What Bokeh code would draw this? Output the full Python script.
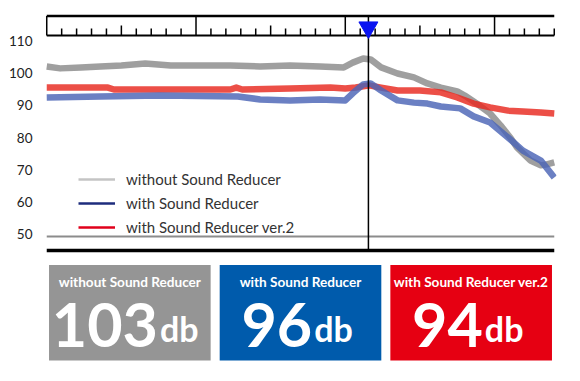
import numpy as np
from bokeh.plotting import figure
from bokeh.layouts import column
from bokeh.models import Range1d, FactorRange, FixedTicker, Legend, LegendItem, ColumnDataSource
from bokeh.core.properties import value
from bokeh.embed import file_html
from bokeh.resources import INLINE

# ---------------- data ----------------
y_ticks = [50, 60, 70, 80, 90, 100, 110]

gray_x = [0, 0.9, 2.3, 3.6, 5.0, 6.6, 8.3, 10.3, 12.3, 14.3, 16.3, 18.3, 19.9, 20.5, 21.2, 21.7,
          22.4, 23.5, 24.6, 25.5, 26.4, 27.5, 28.0, 28.9, 29.7, 30.4, 31.1, 31.5, 32.4, 33.1, 33.5, 34.0]
gray_v = [102.2, 101.6, 101.9, 102.2, 102.5, 103.1, 102.5, 102.5, 102.5, 102.2, 102.5, 102.2, 101.9,
          103.4, 104.7, 104.4, 101.9, 100.0, 98.8, 96.9, 95.6, 94.4, 93.1, 90.3, 87.5, 83.8, 79.7,
          76.9, 72.8, 71.3, 71.6, 72.2]

blue_x = [0, 3.6, 7.6, 12.8, 14.3, 16.3, 18.3, 20.0, 20.5, 21.2, 21.7, 22.4, 23.5, 24.6, 25.5,
          26.4, 27.7, 28.6, 29.7, 30.9, 31.9, 33.1, 34.0]
blue_v = [92.5, 92.8, 93.1, 92.8, 91.9, 91.6, 91.9, 91.6, 93.8, 96.6, 96.9, 94.7, 91.6, 90.9, 90.6,
          89.7, 89.1, 86.6, 84.7, 80.0, 75.9, 72.8, 67.5]

red_x = [0, 4.1, 4.5, 12.3, 12.7, 13.1, 16.3, 19.0, 20.0, 20.7, 21.6, 22.4, 23.5, 25.0, 26.4,
         27.5, 28.6, 29.7, 30.9, 31.9, 33.1, 34.0]
red_v = [95.6, 95.6, 95.0, 95.0, 95.6, 95.0, 95.3, 95.6, 95.3, 95.6, 96.3, 95.6, 94.7, 94.7, 94.1,
         92.5, 90.6, 89.4, 88.4, 88.1, 87.8, 87.5]

cursor_x = 21.55

series_labels = ["without Sound Reducer", "with Sound Reducer", "with Sound Reducer ver.2"]
peak_db = [103, 96, 94]

# ---------------- styles ----------------
FONT = "Lato"
line_colors = ["#8a8a8a", "#4a64b6", "#e8281e"]
legend_colors = ["#c4c4c4", "#1e2d7d", "#e0001b"]
box_colors = ["#959595", "#005bac", "#e60012"]

ruler_top, ruler_bottom = 117.97, 111.875
minor_top, mid_top = 114.06, 115.0
base_gray, base_black = 49.06, 44.69

# ---------------- chart ----------------
p = figure(width=580, height=258, x_range=Range1d(-0.15, 34.15), y_range=Range1d(42.19, 122.81),
           output_backend="svg", toolbar_location=None, x_axis_location=None,
           min_border_left=44, min_border_right=24, min_border_top=0, min_border_bottom=0)
p.outline_line_color = None
p.xgrid.visible = False
p.ygrid.visible = False
p.yaxis.ticker = FixedTicker(ticks=y_ticks)
p.yaxis.axis_line_color = None
p.yaxis.major_tick_line_color = None
p.yaxis.minor_tick_line_color = None
p.yaxis.major_label_standoff = 6
p.yaxis.major_label_text_font = FONT
p.yaxis.major_label_text_font_size = "13.5px"
p.yaxis.major_label_text_color = "#222222"

# ruler
ticks = np.arange(0, 35)
tops = [ruler_top if t % 10 == 0 else (mid_top if t % 5 == 0 else minor_top) for t in ticks]
p.segment(x0=ticks, y0=ruler_bottom, x1=ticks, y1=tops, line_color="black", line_width=1.5)
p.segment(x0=[0, 0], y0=[ruler_top, ruler_bottom], x1=[34, 34], y1=[ruler_top, ruler_bottom],
          line_color="black", line_width=[2.5, 2])

# baselines
p.segment(x0=[0], y0=[base_gray], x1=[34], y1=[base_gray], line_color="#8c8c8c", line_width=2)
p.segment(x0=[0], y0=[base_black], x1=[34], y1=[base_black], line_color="black", line_width=3.5)

# curves
for xs, vs, c in [(gray_x, gray_v, line_colors[0]), (red_x, red_v, line_colors[2]), (blue_x, blue_v, line_colors[1])]:
    p.line(xs, vs, line_color=c, line_width=6.5, line_alpha=0.82, line_join="round")

# cursor
p.segment(x0=[cursor_x], y0=[base_black], x1=[cursor_x], y1=[ruler_top], line_color="black", line_width=1.5)
p.scatter([cursor_x], [114.4], marker="inverted_triangle", size=19, fill_color="#0a14f0", line_color="#0a14f0")

# legend (sample renderers lie outside the visible range)
items = []
for lab, c in zip(series_labels, legend_colors):
    r = p.line([-20, -19], [0, 0], line_color=c, line_width=2.5)
    items.append(LegendItem(label=lab, renderers=[r]))
legend = Legend(items=items, location=(34, 21), orientation="vertical",
                border_line_color=None, background_fill_alpha=0, padding=0, margin=0, spacing=4,
                glyph_width=37, glyph_height=20, label_height=20, label_standoff=11,
                label_text_font=FONT, label_text_font_size="15px", label_text_color="#333333")
p.add_layout(legend)

# ---------------- boxes ----------------
q = figure(width=580, height=123, x_range=FactorRange(factors=series_labels), y_range=Range1d(123, 0),
           output_backend="svg", toolbar_location=None, x_axis_location=None, y_axis_location=None,
           min_border_left=38, min_border_right=19, min_border_top=0, min_border_bottom=0)
q.outline_line_color = None
q.xgrid.visible = False
q.ygrid.visible = False

q.vbar(x=series_labels, top=6.5, bottom=102, width=0.947, fill_color=box_colors, line_color=None)
q.text(x=series_labels, y=[23.2] * 3, text=series_labels, text_align="center", text_baseline="middle",
       text_font=value(FONT), text_font_style="bold", text_font_size="13.6px", text_color="white")

num_size, unit_size = 61, 34
nums = [str(v) for v in peak_db]
offs = [(0.537 * num_size * len(n) - 0.62 * 2 * unit_size) / 2 for n in nums]
src = ColumnDataSource(dict(x=series_labels, num=nums, unit=["db"] * 3, off=offs,
                            off2=[o + 2 for o in offs], y=[66.5] * 3, y2=[70.0] * 3))
q.text(x="x", y="y", text="num", x_offset="off", source=src, text_align="right", text_baseline="middle",
       text_font=value(FONT), text_font_style="bold", text_font_size=f"{num_size}px", text_color="white")
q.text(x="x", y="y2", text="unit", x_offset="off2", source=src, text_align="left", text_baseline="middle",
       text_font=value(FONT), text_font_style="bold", text_font_size=f"{unit_size}px", text_color="white")

layout = column(p, q, spacing=0)
open("out.html", "w").write(file_html(layout, INLINE))
